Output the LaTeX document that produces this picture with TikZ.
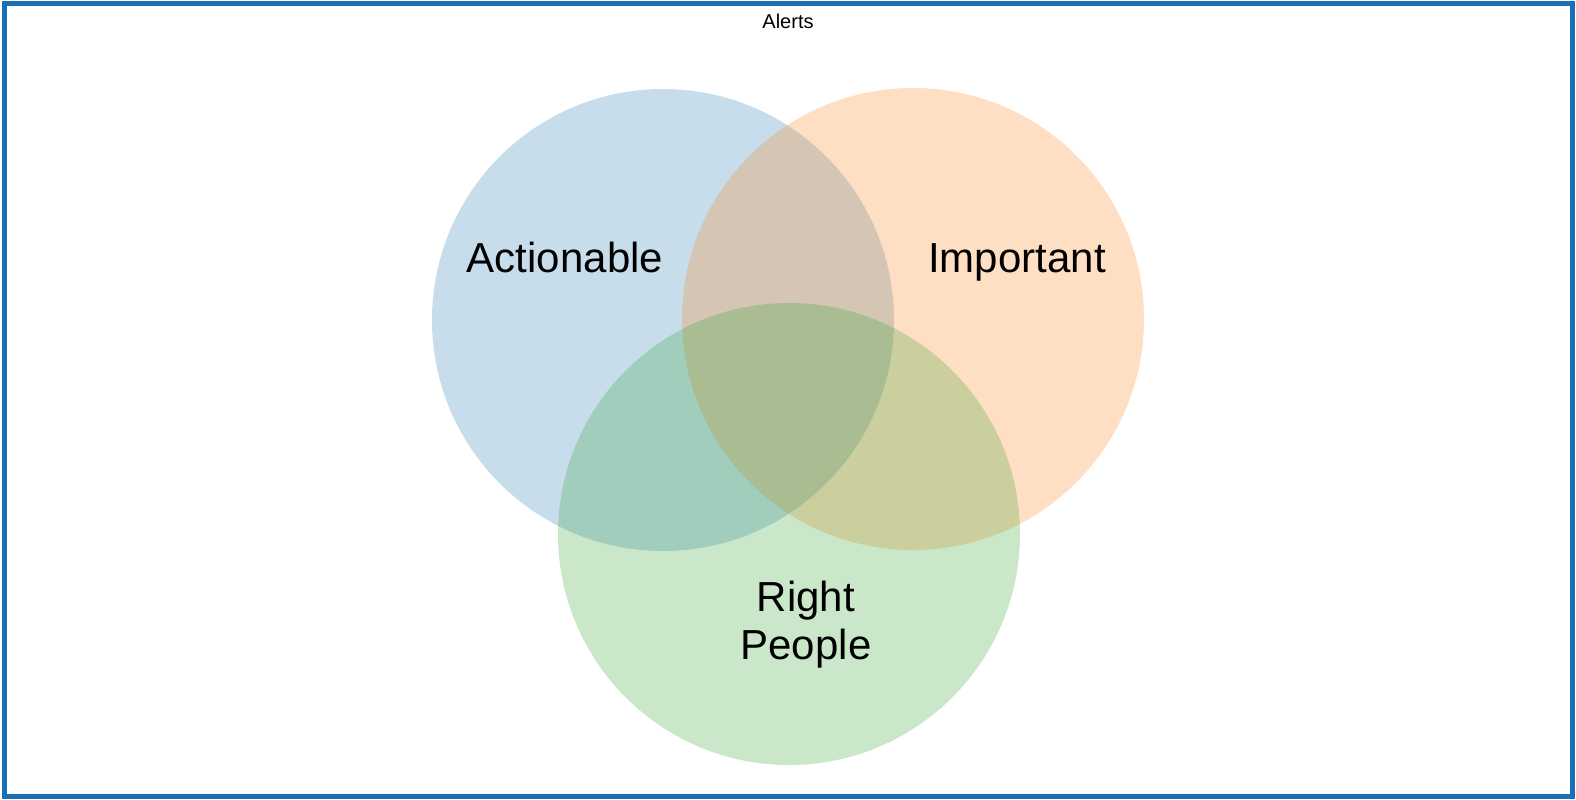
\documentclass[tikz,border=0pt]{standalone}
\usepackage{fontspec}
\setmainfont{Liberation Sans}
\usepackage{xcolor}
\usepackage{tikz}
\usetikzlibrary{positioning}

\definecolor{setblue}{HTML}{1F77B4}
\definecolor{setorange}{HTML}{FF7F0E}
\definecolor{setgreen}{HTML}{2CA02C}
\definecolor{framecol}{HTML}{1A6FB5}

\tikzset{
  setcircle/.style={circle, minimum size=462pt, inner sep=0pt, fill=#1, fill opacity=0.25, draw=none},
  setlabel/.style={font=\fontsize{42}{48}\selectfont, align=center, text=black},
}

\begin{document}
\begin{tikzpicture}[x=1pt, y=-1pt]
	\useasboundingbox (0,0) rectangle (1576,800);
	\draw[framecol, line width=5pt] (4,4) rectangle (1572,796);
	\node[font=\fontsize{20}{24}\selectfont] (title) at (788,21) {Alerts};

	\node[setcircle=setblue] (actionable) at (663,320) {};
	\node[setcircle=setorange] (important) at (913,319) {};
	\node[setcircle=setgreen] (people) at (789,534) {};

	\node[setlabel, anchor=base] (actionablelbl) at (565,272) {Actionable};
	\node[setlabel, anchor=base] (importantlbl) at (1017,272) {Important};
	\node[setlabel] (peoplelbl) at (806,625) {Right\\People};
\end{tikzpicture}
\end{document}
